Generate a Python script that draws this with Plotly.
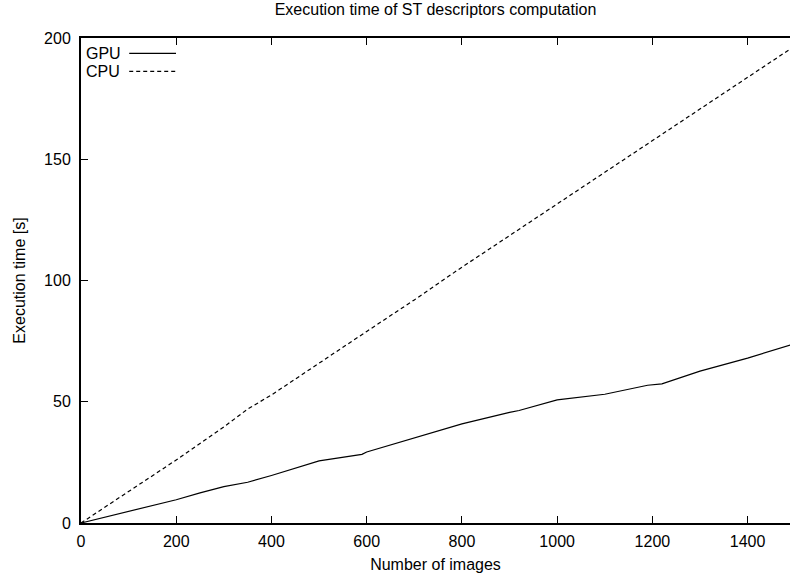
import plotly.graph_objects as go

# Number of processed images
gpu_images = [0, 100, 200, 250, 300, 350, 400, 500, 590, 600, 700, 800, 900, 920,
              1000, 1100, 1190, 1220, 1300, 1400, 1490]
# GPU execution time [s]
gpu_time = [0, 4.8, 9.6, 12.4, 15.0, 16.8, 19.6, 25.6, 28.3, 29.3, 35.0, 40.9, 45.6,
            46.4, 50.8, 53.1, 56.8, 57.4, 62.6, 68.0, 73.4]

cpu_images = [0, 100, 200, 300, 350, 400, 500, 600, 700, 800, 900, 1000, 1100, 1200,
              1300, 1400, 1490]
# CPU execution time [s]
cpu_time = [0, 13.0, 26.0, 39.6, 47.0, 52.8, 66.0, 79.0, 92.0, 105.5, 118.5, 131.5,
            144.5, 157.5, 170.5, 183.5, 195.5]

x_ticks = [0, 200, 400, 600, 800, 1000, 1200, 1400]
y_ticks = [0, 50, 100, 150, 200]

series_names = ["GPU", "CPU"]
series_dash = ["solid", "4px,3px"]

FONT = "Liberation Sans, Arial, Helvetica, sans-serif"
font = dict(family=FONT, size=16, color="black")

fig = go.Figure()
fig.add_trace(go.Scatter(x=gpu_images, y=gpu_time, mode="lines", name=series_names[0],
                         line=dict(color="black", width=1.2, dash=series_dash[0])))
fig.add_trace(go.Scatter(x=cpu_images, y=cpu_time, mode="lines", name=series_names[1],
                         line=dict(color="black", width=1.2, dash=series_dash[1])))

# gnuplot-style key: label on the left, line sample on the right
key_rows_y = [0.9685, 0.931]
for name, dash, ky in zip(series_names, series_dash, key_rows_y):
    fig.add_annotation(text=name, xref="paper", yref="paper", x=0.004, y=ky,
                       xanchor="left", yanchor="middle", showarrow=False,
                       font=dict(family=FONT, size=16, color="black"))
    fig.add_shape(type="line", xref="paper", yref="paper", x0=0.068, x1=0.134,
                  y0=ky, y1=ky, line=dict(color="black", width=1.2, dash=dash))

fig.update_layout(
    width=790, height=574,
    margin=dict(l=81, r=0, t=38, b=51),
    paper_bgcolor="white", plot_bgcolor="white",
    font=font,
    showlegend=False,
    title=dict(text="Execution time of ST descriptors computation", x=0.5, xref="paper",
               xanchor="center", y=1, yref="container", yanchor="top", pad=dict(t=4),
               font=dict(family=FONT, size=16, color="black")),
    xaxis=dict(range=[0, 1489], tickvals=x_ticks, showgrid=False, zeroline=False,
               showline=True, linecolor="black", linewidth=2, mirror="ticks",
               ticks="inside", ticklen=7, tickcolor="black", tickwidth=1,
               ticklabelstandoff=3,
               tickfont=dict(family=FONT, size=16, color="black"),
               title=dict(text="Number of images", standoff=10,
                          font=dict(family=FONT, size=16, color="black"))),
    yaxis=dict(range=[0, 200], tickvals=y_ticks, showgrid=False, zeroline=False,
               showline=True, linecolor="black", linewidth=2,
               ticks="inside", ticklen=7, tickcolor="black", tickwidth=1,
               ticklabelstandoff=5,
               tickfont=dict(family=FONT, size=16, color="black"),
               title=dict(text="Execution time [s]", standoff=14,
                          font=dict(family=FONT, size=16, color="black"))),
)

fig.write_html("out.html")
